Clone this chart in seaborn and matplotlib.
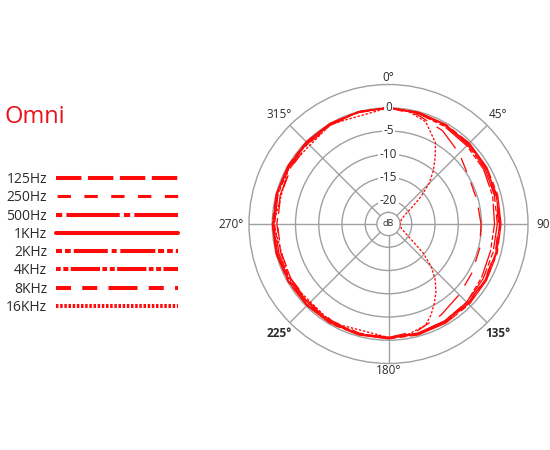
import numpy as np
import pandas as pd
import matplotlib.pyplot as plt
import seaborn as sns

# Omni polar response, dB relative to on-axis
angles = [0, 15, 30, 45, 60, 75, 90, 105, 120, 135, 150, 165, 180,
          195, 210, 225, 240, 255, 270, 285, 300, 315, 330, 345, 360]
resp_125 = [0, -0.2, -0.4, -0.6, -0.8, -0.9, -1.0, -0.9, -0.8, -0.7, -0.6, -0.5, -0.4,
            -0.4, -0.5, -0.6, -0.5, -0.3, -0.2, -0.2, -0.3, -0.3, -0.2, -0.1, 0]
resp_250 = [0, -0.3, -0.6, -0.9, -1.1, -1.2, -1.3, -1.2, -1.1, -0.9, -0.8, -0.7, -0.6,
            -0.7, -0.9, -1.0, -1.0, -1.1, -1.1, -1.0, -0.8, -0.6, -0.4, -0.2, 0]
resp_500 = [0, -0.1, -0.3, -0.4, -0.6, -0.7, -0.8, -0.8, -0.7, -0.5, -0.4, -0.3, -0.3,
            -0.3, -0.2, -0.2, -0.1, 0, 0, 0, 0, 0, 0, 0, 0]
resp_1k = [0, -0.2, -0.4, -0.6, -0.8, -1.0, -1.1, -1.1, -1.0, -0.9, -0.7, -0.5, -0.4,
           -0.4, -0.3, -0.2, -0.2, -0.1, -0.1, -0.1, -0.1, 0, 0, 0, 0]
resp_2k = [0, -0.3, -0.6, -0.9, -1.1, -1.4, -1.6, -1.7, -1.5, -1.2, -0.9, -0.6, -0.5,
           -0.5, -0.4, -0.4, -0.3, -0.3, -0.3, -0.2, -0.2, -0.1, -0.1, 0, 0]
resp_4k = [0, -0.4, -0.8, -1.2, -1.4, -1.8, -2.2, -2.3, -1.9, -1.2, -0.9, -0.7, -0.6,
           -0.6, -0.7, -0.8, -0.7, -0.6, -0.5, -0.4, -0.4, -0.3, -0.2, -0.1, 0]
resp_8k = [0, -0.7, -1.8, -3.5, -5.0, -5.3, -5.1, -4.7, -4.2, -3.5, -2.4, -1.2, -0.6,
           -0.5, -0.6, -0.8, -0.9, -1.0, -1.0, -0.9, -0.7, -0.5, -0.3, -0.1, 0]

# 16KHz has a deep side null, so it gets a finer angle grid
angles_16k = [0, 10, 20, 30, 35, 40, 45, 50, 55, 60, 70, 80, 90, 100, 110, 120, 125,
              130, 135, 140, 145, 150, 155, 160, 170, 180, 210, 240, 270, 300, 330, 360]
resp_16k = [0, -0.4, -1.6, -4.8, -7.5, -10.0, -12.6, -16.0, -19.0, -20.8, -22.0, -22.4,
            -22.5, -22.4, -22.0, -20.5, -18.8, -15.2, -12.0, -9.4, -7.2, -5.3, -3.4,
            -1.8, -0.9, -0.6, -0.5, -0.4, -0.3, -0.3, -0.2, 0]

freq_labels = ["125Hz", "250Hz", "500Hz", "1KHz", "2KHz", "4KHz", "8KHz", "16KHz"]
ring_values = [0, -5, -10, -15, -20]
ring_labels = ["0", "-5", "-10", "-15", "-20"]
theta_ticks = [0, 45, 90, 135, 180, 225, 270, 315]
theta_labels = ["0°", "45°", "90°", "135°", "180°", "225°", "270°", "315°"]

series = {"125Hz": (angles, resp_125), "250Hz": (angles, resp_250),
          "500Hz": (angles, resp_500), "1KHz": (angles, resp_1k),
          "2KHz": (angles, resp_2k), "4KHz": (angles, resp_4k),
          "8KHz": (angles, resp_8k), "16KHz": (angles_16k, resp_16k)}

rows = []
for f in freq_labels:
    for a, v in zip(*series[f]):
        rows.append((f, np.deg2rad(a), v))
df = pd.DataFrame(rows, columns=["freq", "theta", "db"])

# dash patterns in points (not scaled by line width)
styles = {
    "125Hz": (0, (18.3, 4.7)),
    "250Hz": (-0.8, (9.6, 9.7)),
    "500Hz": (0, (4.5, 3.0, 38.4, 3.0)),
    "1KHz": "-",
    "2KHz": (0, (4.3, 2.2, 4.1, 2.2, 24.5, 2.8, 3.6, 2.6, 25.2, 2.0)),
    "4KHz": (0, (3.4, 1.9, 3.6, 1.7, 21.1, 1.7)),
    "8KHz": (0, (10.8, 8.1, 10.8, 8.1, 20.9, 8.1)),
    "16KHz": (0, (1.8, 1.2)),
}
legend_lw = {f: 2.9 for f in freq_labels}
legend_lw["250Hz"] = 2.2

RED = "#ff0a0a"
GRID = "#a0a0a0"
TXT = "#2b2b2b"

sns.set_theme(style="white")
plt.rcParams["font.family"] = ["Open Sans", "DejaVu Sans"]
plt.rcParams["lines.scale_dashes"] = False

fig = plt.figure(figsize=(5.5, 4.5), dpi=100)
ax = fig.add_axes([249 / 550, 86.5 / 450, 279 / 550, 279 / 450], projection="polar")

for f in freq_labels:
    sns.lineplot(data=df[df.freq == f], x="theta", y="db", ax=ax, color=RED,
                 lw=0.95, linestyle=styles[f], label=f, legend=False, sort=False,
                 zorder=3)

ax.set_theta_zero_location("N")
ax.set_theta_direction(-1)
ax.set_rlim(-22.5, 5)
ax.set_rorigin(-25)
ax.set_xlabel("")
ax.set_ylabel("")

# no spoke on the 0 degree line, labels sit there instead
ax.set_xticks(np.deg2rad(theta_ticks[1:]))
ax.set_xticklabels([])
ax.set_yticks(ring_values)
ax.set_yticklabels([])
ax.grid(True, color=GRID, lw=1.0)
for s in ax.spines.values():
    s.set_color(GRID)
    s.set_linewidth(1.0)

for v, t in zip(ring_values, ring_labels):
    ax.text(0, v, t, ha="center", va="center", fontsize=8.5, color=TXT, zorder=6,
            bbox=dict(boxstyle="square,pad=0.12", fc="white", ec="none"))
ax.text(0.5, 0.5, "dB", transform=ax.transAxes, ha="center", va="center",
        fontsize=6.5, color=TXT)

for a, t in zip(theta_ticks, theta_labels):
    if a % 180 == 0:
        r = 6.6
    elif a % 90 == 0:
        r = 8.8
    else:
        r = 8.3
    weight = "bold" if a in (135, 225) else "normal"
    ax.text(np.deg2rad(a), r, t, ha="center", va="center", fontsize=8.5,
            color=TXT, fontweight=weight)

# left-hand key
fig.text(5 / 550, 1 - 123 / 450, "Omni", color="#e8141c", fontsize=17,
         va="baseline", ha="left")

handles, labels = ax.get_legend_handles_labels()
leg = fig.legend(handles, labels, loc="upper right",
                 bbox_to_anchor=(178 / 550, 1 - 172 / 450), frameon=False,
                 markerfirst=False, fontsize=10, handlelength=8.78,
                 handletextpad=0.65, labelspacing=0.235, borderpad=0,
                 borderaxespad=0, numpoints=1)
for h, f in zip(leg.legend_handles, labels):
    h.set_linewidth(legend_lw[f])
for t in leg.get_texts():
    t.set_color(TXT)

fig.savefig("out.png", dpi=100)
